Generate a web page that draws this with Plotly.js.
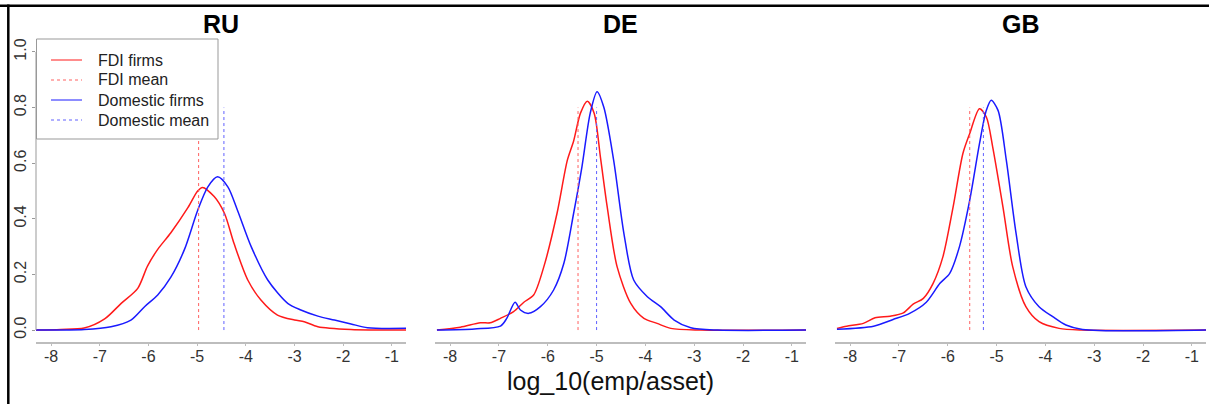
<!DOCTYPE html>
<html>
<head>
<meta charset="utf-8">
<script src="https://cdn.plot.ly/plotly-3.0.1.min.js"></script>
<style>html,body{margin:0;padding:0;background:#fff;}#chart{width:1209px;height:404px;}</style>
</head>
<body>
<div id="chart"></div>
<script>
// ---- data ----
const countries = ["RU", "DE", "GB"];
const seriesNames = ["FDI firms", "FDI mean", "Domestic firms", "Domestic mean"];
const xTickVals = [-8, -7, -6, -5, -4, -3, -2, -1];
const yTickVals = [0, 0.2, 0.4, 0.6, 0.8, 1.0];

const ruFdiX = [-8.31, -7.8, -7.32, -6.9, -6.56, -6.22, -6.02, -5.81, -5.54, -5.19, -4.99, -4.89, -4.65, -4.44, -4.24, -3.96, -3.69, -3.35, -3.0, -2.8, -2.52, -1.84, -0.71];
const ruFdiY = [0.0, 0.002, 0.007, 0.04, 0.096, 0.15, 0.23, 0.29, 0.35, 0.44, 0.50, 0.513, 0.48, 0.42, 0.31, 0.18, 0.108, 0.054, 0.036, 0.03, 0.012, 0.002, 0.0];
const ruDomX = [-8.31, -7.32, -6.77, -6.36, -6.08, -5.81, -5.54, -5.26, -4.99, -4.78, -4.58, -4.37, -4.17, -3.89, -3.55, -3.14, -2.87, -2.52, -2.18, -1.84, -1.5, -0.71];
const ruDomY = [0.0, 0.002, 0.012, 0.036, 0.084, 0.126, 0.19, 0.29, 0.43, 0.515, 0.551, 0.515, 0.43, 0.30, 0.18, 0.096, 0.072, 0.05, 0.036, 0.022, 0.008, 0.006];

const deFdiX = [-8.27, -7.79, -7.38, -7.18, -6.97, -6.7, -6.49, -6.29, -6.08, -5.81, -5.6, -5.47, -5.33, -5.19, -5.05, -4.92, -4.78, -4.58, -4.3, -4.03, -3.76, -3.48, -2.87, -0.71];
const deFdiY = [0.0, 0.01, 0.026, 0.026, 0.042, 0.066, 0.10, 0.126, 0.228, 0.42, 0.61, 0.68, 0.78, 0.823, 0.78, 0.62, 0.44, 0.228, 0.096, 0.042, 0.024, 0.006, 0.0, 0.0];
const deDomX = [-8.27, -7.5, -6.97, -6.84, -6.67, -6.56, -6.39, -6.15, -5.88, -5.67, -5.47, -5.3, -5.13, -4.99, -4.85, -4.65, -4.44, -4.24, -3.96, -3.69, -3.41, -3.07, -2.52, -0.71];
const deDomY = [0.0, 0.004, 0.014, 0.042, 0.10, 0.072, 0.06, 0.084, 0.144, 0.24, 0.42, 0.587, 0.78, 0.857, 0.80, 0.61, 0.347, 0.18, 0.12, 0.084, 0.036, 0.008, 0.0, 0.0];

const gbFdiX = [-8.27, -8.07, -7.73, -7.49, -7.18, -6.91, -6.71, -6.5, -6.3, -6.1, -5.89, -5.69, -5.55, -5.35, -5.21, -5.08, -4.87, -4.67, -4.4, -4.13, -3.72, -3.24, -0.71];
const gbFdiY = [0.006, 0.014, 0.024, 0.044, 0.05, 0.062, 0.093, 0.114, 0.168, 0.263, 0.443, 0.635, 0.707, 0.796, 0.766, 0.659, 0.443, 0.228, 0.084, 0.03, 0.006, 0.0, 0.0];
const gbDomX = [-8.27, -7.52, -7.12, -6.78, -6.44, -6.16, -5.96, -5.76, -5.55, -5.35, -5.21, -5.11, -4.97, -4.8, -4.6, -4.4, -4.13, -3.85, -3.58, -3.24, -0.71];
const gbDomY = [0.003, 0.014, 0.038, 0.06, 0.10, 0.168, 0.204, 0.30, 0.467, 0.67, 0.79, 0.826, 0.79, 0.61, 0.347, 0.156, 0.084, 0.048, 0.018, 0.002, 0.0];

const fdiMeans = [-4.97, -5.38, -5.55];
const domMeans = [-4.45, -5.0, -5.27];
const meanLineTop = 0.8;

// ---- layout helpers ----
const W = 1209, H = 404, T = 35, B = 62;
const PH = H - T - B;
const fx = px => px / W;
const fy = py => (H - B - py) / PH;
const RED = "#ff1a1a", BLUE = "#1a1aff";
const FONT = "Liberation Sans, Arial, Helvetica, sans-serif";

const curves = [[ruFdiX, ruFdiY, ruDomX, ruDomY], [deFdiX, deFdiY, deDomX, deDomY], [gbFdiX, gbFdiY, gbDomX, gbDomY]];
const domains = [[36, 406], [435, 806], [835, 1206]];
const axIds = ["x", "x2", "x3"];

const traces = [];
curves.forEach((c, i) => {
  const xa = axIds[i];
  traces.push({x: c[0], y: c[1], xaxis: xa, yaxis: "y", type: "scatter", mode: "lines", name: seriesNames[0],
    line: {color: RED, width: 1.5, shape: "spline", smoothing: 0.8}, showlegend: false, hoverinfo: "skip"});
  traces.push({x: c[2], y: c[3], xaxis: xa, yaxis: "y", type: "scatter", mode: "lines", name: seriesNames[2],
    line: {color: BLUE, width: 1.5, shape: "spline", smoothing: 0.8}, showlegend: false, hoverinfo: "skip"});
  traces.push({x: [fdiMeans[i], fdiMeans[i]], y: [0, meanLineTop], xaxis: xa, yaxis: "y", type: "scatter", mode: "lines",
    name: seriesNames[1], line: {color: "#ff6060", width: 1, dash: "dot"}, showlegend: false, hoverinfo: "skip"});
  traces.push({x: [domMeans[i], domMeans[i]], y: [0, meanLineTop], xaxis: xa, yaxis: "y", type: "scatter", mode: "lines",
    name: seriesNames[3], line: {color: "#6060ff", width: 1, dash: "dot"}, showlegend: false, hoverinfo: "skip"});
});

const xaxisBase = {
  range: [-8.31, -0.71], tickvals: xTickVals, ticktext: xTickVals.map(String),
  showgrid: false, zeroline: false, showline: true, linecolor: "#bdbdbd", linewidth: 2,
  ticks: "outside", ticklen: 2, tickcolor: "#bdbdbd", ticklabelstandoff: -3,
  tickfont: {family: FONT, size: 16, color: "#333"}, anchor: "y", fixedrange: true
};

const layout = {
  width: W, height: H,
  margin: {l: 0, r: 0, t: T, b: B, pad: 0},
  paper_bgcolor: "#fff", plot_bgcolor: "#fff",
  showlegend: false,
  xaxis: Object.assign({}, xaxisBase, {domain: [fx(domains[0][0]), fx(domains[0][1])]}),
  xaxis2: Object.assign({}, xaxisBase, {domain: [fx(domains[1][0]), fx(domains[1][1])]}),
  xaxis3: Object.assign({}, xaxisBase, {domain: [fx(domains[2][0]), fx(domains[2][1])]}),
  yaxis: {
    range: [-0.043, 1.061], domain: [0, 1], anchor: "x",
    tickvals: yTickVals, ticktext: yTickVals.map(v => v.toFixed(1)), tickangle: -90,
    showgrid: false, zeroline: false, showline: false,
    ticks: "outside", ticklen: 3, tickcolor: "#999",
    tickfont: {family: FONT, size: 16, color: "#333"}, fixedrange: true
  },
  shapes: [],
  annotations: []
};

// y axis line from 0 to 1
layout.shapes.push({type: "line", xref: "x domain", yref: "y", x0: 0, x1: 0, y0: 0, y1: 1, line: {color: "#999", width: 1}});
// outer frame (top and left)
layout.shapes.push({type: "line", xref: "paper", yref: "paper", x0: 0, x1: 1, y0: fy(5.7), y1: fy(5.7), line: {color: "#000", width: 2.5}});
layout.shapes.push({type: "line", xref: "paper", yref: "paper", x0: fx(8.3), x1: fx(8.3), y0: fy(4.5), y1: fy(410), line: {color: "#000", width: 2.5}});

// panel titles
countries.forEach((c, i) => {
  layout.annotations.push({text: c, xref: "paper", yref: "paper", x: fx((domains[i][0] + domains[i][1]) / 2), y: fy(24),
    xanchor: "center", yanchor: "middle", showarrow: false, font: {family: FONT, size: 25, color: "#000", weight: "bold"}});
});
// common x title
layout.annotations.push({text: "log_10(emp/asset)", xref: "paper", yref: "paper", x: fx(610), y: fy(381),
  xanchor: "center", yanchor: "middle", showarrow: false, font: {family: FONT, size: 25, color: "#111"}});

// legend (box, samples, labels)
layout.shapes.push({type: "rect", xref: "paper", yref: "paper", x0: fx(36.5), x1: fx(218), y0: fy(39), y1: fy(139),
  line: {color: "#999", width: 1}, fillcolor: "#fff", layer: "above"});
const legendStyles = [
  {color: RED, dash: "solid"}, {color: "#ff6060", dash: "dot"}, {color: BLUE, dash: "solid"}, {color: "#6060ff", dash: "dot"}
];
seriesNames.forEach((n, k) => {
  const py = 60 + 20 * k;
  layout.shapes.push({type: "line", xref: "paper", yref: "paper", x0: fx(51), x1: fx(82), y0: fy(py), y1: fy(py),
    line: {color: legendStyles[k].color, width: 1, dash: legendStyles[k].dash}, layer: "above"});
  layout.annotations.push({text: n, xref: "paper", yref: "paper", x: fx(96), y: fy(py), xanchor: "left", yanchor: "middle",
    showarrow: false, font: {family: FONT, size: 16, color: "#222"}});
});

Plotly.newPlot("chart", traces, layout, {staticPlot: true, displayModeBar: false});
</script>
</body>
</html>
